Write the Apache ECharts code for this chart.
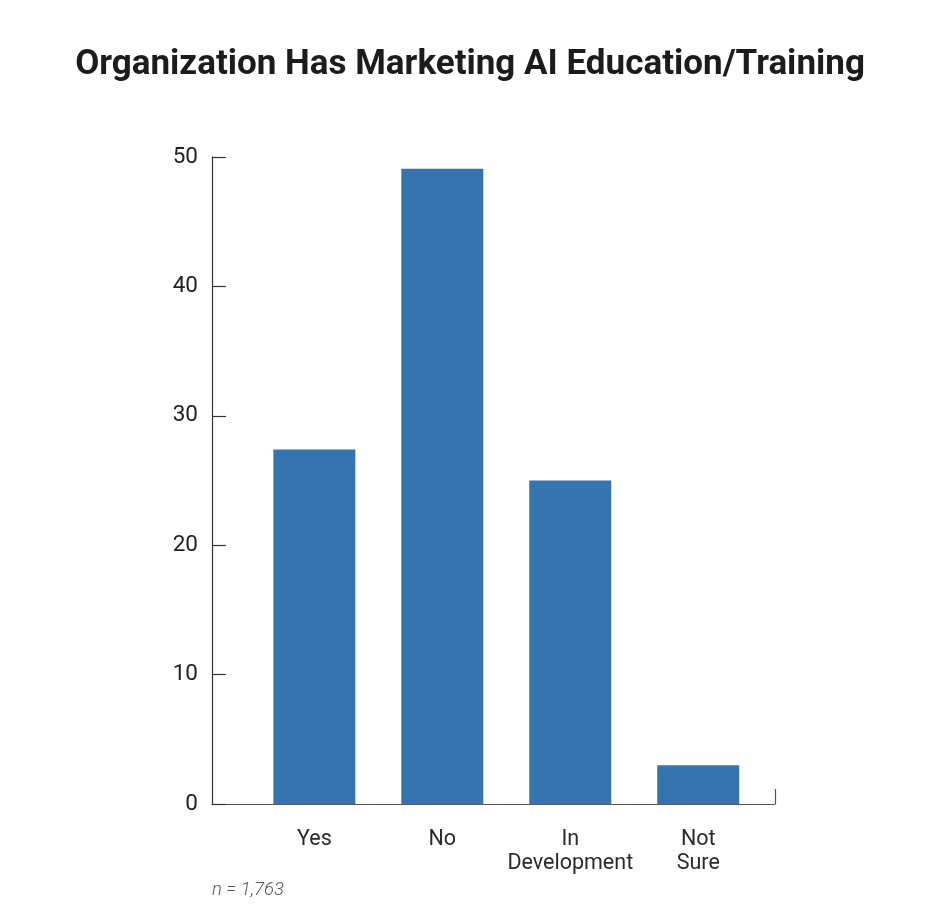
<!DOCTYPE html>
<html>
<head>
<meta charset="utf-8">
<script src="https://cdn.jsdelivr.net/npm/echarts@6/dist/echarts.min.js"></script>
<style>
  html, body { margin: 0; padding: 0; background: #fff; }
  #chart { width: 940px; height: 918px; }
</style>
</head>
<body>
<div id="chart"></div>
<script>
// data
var categories = ['Yes', 'No', 'In\nDevelopment', 'Not\nSure'];
var values = [27.4, 49.1, 25.0, 3.0];
var positions = [0, 1, 2, 3];
var titleText = 'Organization Has Marketing AI Education/Training';
var noteText = 'n = 1,763';

var chart = echarts.init(document.getElementById('chart'));

// bars sit on a value axis so the frame can run past them unevenly
var barData = positions.map(function (p, i) { return [p, values[i]]; });

var option = {
  backgroundColor: '#fff',
  animation: false,
  title: {
    text: titleText,
    left: 'center',
    top: 43,
    textStyle: {
      fontFamily: 'Roboto',
      fontWeight: 'bold',
      fontSize: 35,
      color: '#1c1c1c'
    }
  },
  grid: { left: 212, right: 165, top: 157, bottom: 114 },
  xAxis: {
    type: 'value',
    min: -0.8,
    max: 3.6,
    splitLine: { show: false },
    axisLine: { show: true, lineStyle: { color: '#555', width: 1.2 } },
    axisTick: {
      show: true,
      inside: true,
      length: 15,
      customValues: [3.6],
      lineStyle: { color: '#555', width: 1.2 }
    },
    axisLabel: {
      customValues: positions,
      formatter: function (v) {
        var i = positions.indexOf(Math.round(v));
        return i >= 0 ? categories[i] : '';
      },
      fontFamily: 'Roboto',
      fontSize: 21.5,
      lineHeight: 24,
      color: '#2a2a2a',
      margin: 24
    }
  },
  yAxis: {
    type: 'value',
    min: 0,
    max: 50,
    interval: 10,
    splitLine: { show: false },
    axisLine: { show: true, onZero: false, lineStyle: { color: '#333', width: 1.2 } },
    axisTick: { show: true, inside: true, length: 14, lineStyle: { color: '#333', width: 1.2 } },
    axisLabel: {
      fontFamily: 'Roboto',
      fontSize: 22.5,
      color: '#222',
      margin: 14
    }
  },
  series: [{
    type: 'bar',
    data: barData,
    barWidth: 82,
    itemStyle: { color: '#3673b1' }
  }],
  graphic: [{
    type: 'text',
    left: 212,
    top: 881,
    style: {
      text: noteText,
      fontFamily: 'Roboto',
      fontStyle: 'italic',
      fontWeight: 300,
      fontSize: 18.5,
      fill: '#555'
    }
  }]
};

chart.setOption(option);
</script>
</body>
</html>
